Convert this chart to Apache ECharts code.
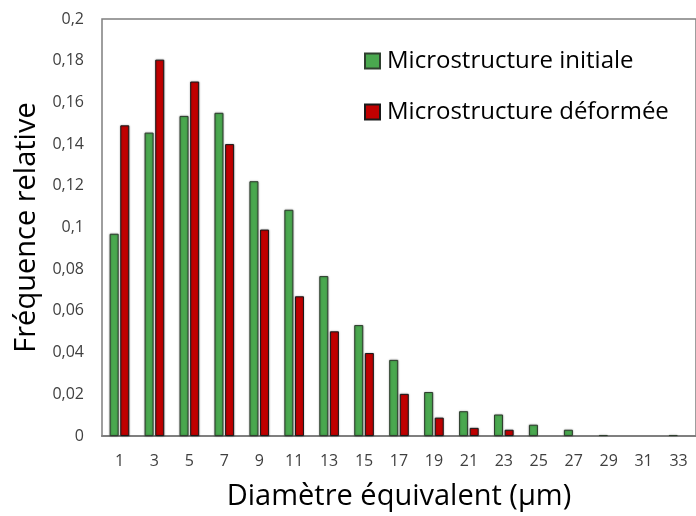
<!DOCTYPE html>
<html>

<head>
    <meta charset="utf-8">
    <script src="https://cdn.jsdelivr.net/npm/echarts@6/dist/echarts.min.js"></script>
    <style>
        html, body, div {
            width: 100%;
            height: 100%;
            margin: 0px;
        }
    </style>
</head>

<body>
    <div id="chart"></div>
    <script>
        // diamètres (µm)
        var diametres = ['1', '3', '5', '7', '9', '11', '13', '15', '17', '19', '21', '23', '25', '27', '29', '31', '33'];
        var initiale = [0.097, 0.1455, 0.1535, 0.155, 0.1222, 0.1085, 0.0767, 0.0532, 0.0365, 0.0211, 0.0119, 0.0103, 0.0054, 0.003, 0.0005, 0, 0.0005];
        var deformee = [0.149, 0.1805, 0.170, 0.140, 0.099, 0.067, 0.0502, 0.0398, 0.0202, 0.0088, 0.0039, 0.003, 0, 0, 0, 0, 0];

        // pas de barre dessinée pour une fréquence nulle
        function sansZero(arr) {
            return arr.map(function (v) { return v === 0 ? '-' : v; });
        }

        var police = '"Open Sans", "Noto Sans", sans-serif';
        var myChart = echarts.init(document.getElementById('chart'));
        var option = {
            animation: false,
            textStyle: { fontFamily: police },
            grid: {
                left: 102,
                top: 19,
                right: -6,
                bottom: 79,
                show: true,
                borderColor: '#7f7f7f',
                borderWidth: 1.5
            },
            legend: {
                orient: 'vertical',
                left: 359,
                top: 44,
                itemWidth: 15,
                itemHeight: 15,
                itemGap: 27,
                icon: 'rect',
                textStyle: { fontSize: 24, color: '#000', fontFamily: police, padding: [0, 0, 0, 2] },
                data: ['Microstructure initiale', 'Microstructure déformée']
            },
            xAxis: {
                type: 'category',
                data: diametres,
                name: 'Diamètre équivalent (µm)',
                nameLocation: 'middle',
                nameGap: 46,
                nameTextStyle: { fontSize: 29, color: '#000' },
                axisLine: { lineStyle: { color: '#7f7f7f', width: 2 } },
                axisTick: { show: false },
                axisLabel: { fontSize: 16, color: '#404040', margin: 17 }
            },
            yAxis: {
                type: 'value',
                min: 0,
                max: 0.2,
                interval: 0.02,
                name: 'Fréquence relative',
                nameLocation: 'middle',
                nameGap: 57,
                nameTextStyle: { fontSize: 29, color: '#000' },
                splitLine: { show: false },
                axisLine: { show: false },
                axisTick: { show: false },
                axisLabel: {
                    fontSize: 16,
                    color: '#404040',
                    margin: 18,
                    formatter: function (v) {
                        return String(Math.round(v * 100) / 100).replace('.', ',');
                    }
                }
            },
            series: [
                {
                    name: 'Microstructure initiale',
                    type: 'bar',
                    data: sansZero(initiale),
                    barWidth: 9,
                    barGap: '18%',
                    itemStyle: {
                        color: '#4aa84f',
                        borderColor: '#2f3f2f',
                        borderWidth: 1,
                        shadowBlur: 2,
                        shadowColor: 'rgba(0,0,0,0.35)'
                    }
                },
                {
                    name: 'Microstructure déformée',
                    type: 'bar',
                    data: sansZero(deformee),
                    barWidth: 9,
                    itemStyle: {
                        color: '#c00000',
                        borderColor: '#1a1a1a',
                        borderWidth: 1,
                        shadowBlur: 2,
                        shadowColor: 'rgba(0,0,0,0.35)'
                    }
                }
            ]
        };
        myChart.setOption(option);
    </script>
</body>

</html>
